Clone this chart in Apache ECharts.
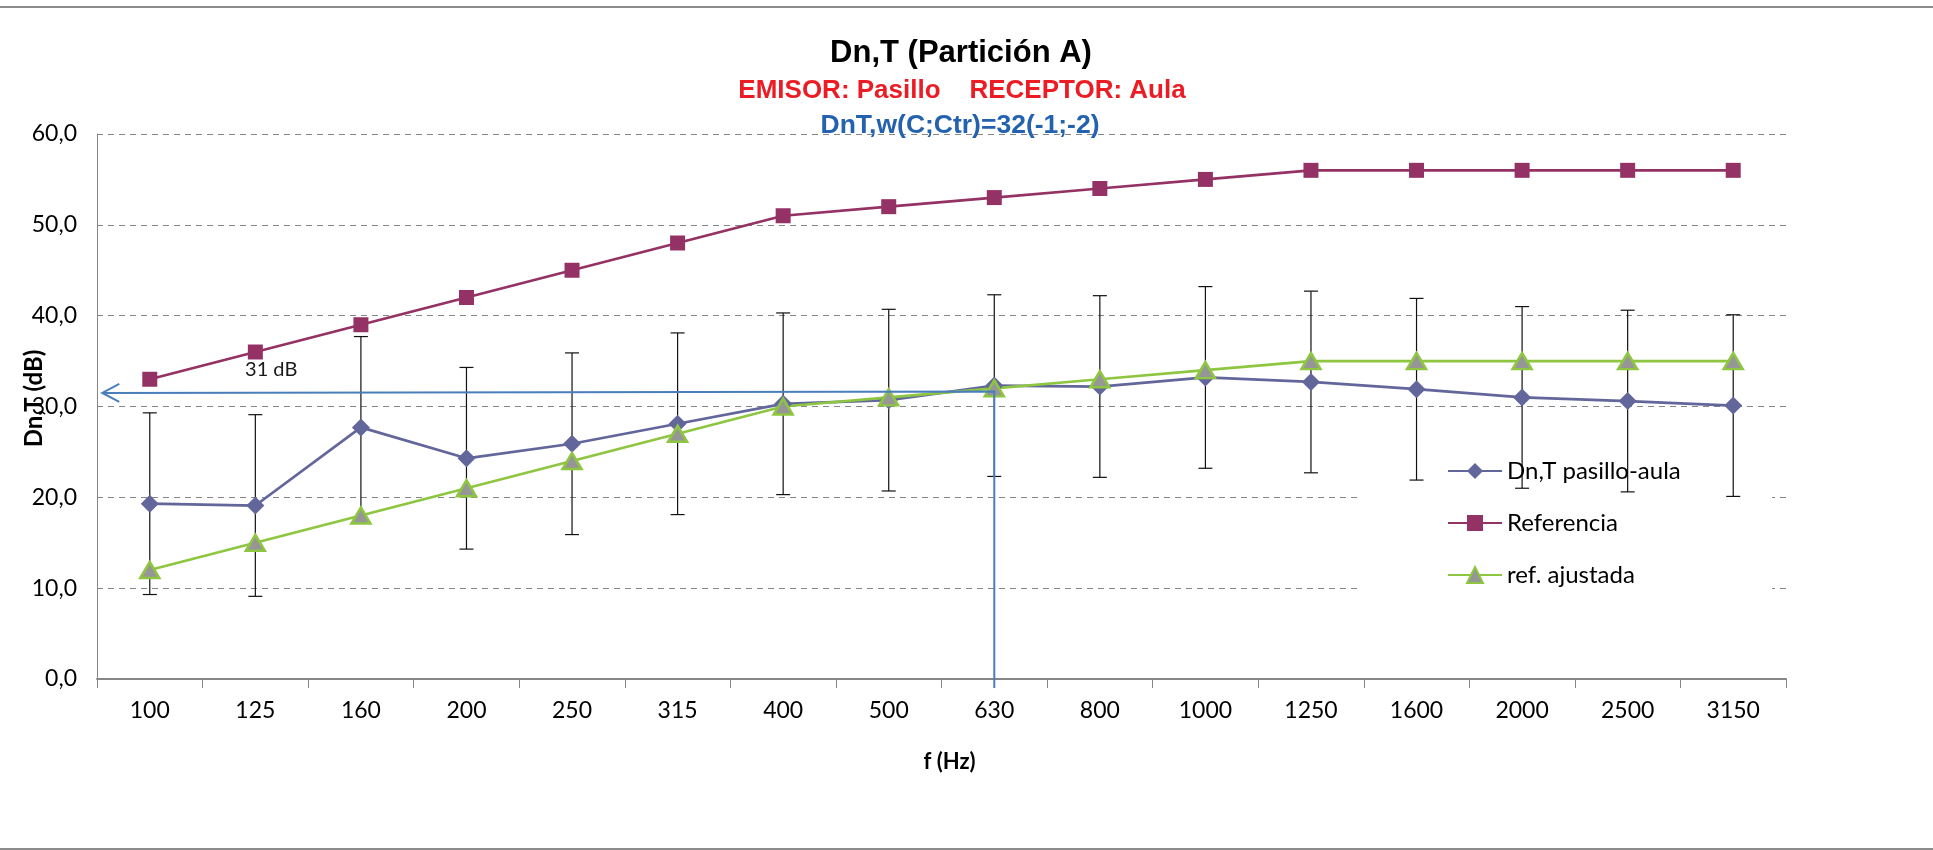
<!DOCTYPE html>
<html><head><meta charset="utf-8">
<script src="https://cdn.jsdelivr.net/npm/echarts@6/dist/echarts.min.js"></script>
<style>html,body{margin:0;padding:0;background:#fff}#c{width:1933px;height:850px}</style>
</head><body><div id="c"></div>
<script>
// ---- data ----
const frequencies = ['100','125','160','200','250','315','400','500','630','800','1000','1250','1600','2000','2500','3150'];
const dntPasilloAula = [19.3,19.1,27.7,24.3,25.9,28.1,30.3,30.7,32.3,32.2,33.2,32.7,31.9,31.0,30.6,30.1];
const referencia = [33,36,39,42,45,48,51,52,53,54,55,56,56,56,56,56];
const refAjustada = [12,15,18,21,24,27,30,31,32,33,34,35,35,35,35,35];
const errorBarAmount = 10;            // fixed-value error bars (dB)
const yTicks = [0,10,20,30,40,50,60];
// annotation (data space: x = category index, y = dB)
const arrowTip = [-0.45, 31.5];
const arrowCorner = [8, 31.65];
const arrowFoot = [8, -1];
const noteText = '31 dB';
const notePos = [1.15, 34.1];
const seriesNames = ['Dn,T pasillo-aula','Referencia','ref. ajustada'];

const chart = echarts.init(document.getElementById('c'), null, {renderer:'canvas'});
const CAL = 'Lato';
const ARIAL = 'Liberation Sans';
const arrowColor = '#4A7EBB';

const option = {
  backgroundColor:'#fff',
  animation:false,
  title:[
    {text:'Dn,T (Partición A)', left:961, textAlign:'center', top:38, padding:0,
     textStyle:{fontFamily:ARIAL, fontWeight:'bold', fontSize:31, color:'#000'}},
    {text:'EMISOR: Pasillo    RECEPTOR: Aula', left:962, textAlign:'center', top:78, padding:0,
     textStyle:{fontFamily:ARIAL, fontWeight:'bold', fontSize:26, color:'#EC1C24'}},
    {text:'DnT,w(C;Ctr)=32(-1;-2)', left:960, textAlign:'center', top:112, padding:0,
     textStyle:{fontFamily:ARIAL, fontWeight:'bold', fontSize:26.5, color:'#2462B0'}}
  ],
  grid:{left:97, right:147, top:134, bottom:171, containLabel:false, outerBoundsMode:'none'},
  legend:{orient:'vertical', left:1447, top:459, padding:0, itemWidth:54, itemHeight:20, itemGap:28,
    selectedMode:false, data:seriesNames,
    textStyle:{fontFamily:CAL, fontSize:24, color:'#000', lineHeight:24}},
  graphic:[
    {type:'rect', z:1, shape:{x:1358, y:430, width:414, height:195}, style:{fill:'#fff'}},
    {type:'line', z:1, shape:{x1:0, y1:7, x2:1933, y2:7}, style:{stroke:'#8c8c8c', lineWidth:2}},
    {type:'line', z:1, shape:{x1:0, y1:849, x2:1933, y2:849}, style:{stroke:'#8c8c8c', lineWidth:2}}
  ],
  xAxis:[
    {type:'category', data:frequencies, boundaryGap:true,
     name:'f (Hz)', nameLocation:'middle', nameGap:72, nameMoveOverlap:false,
     nameTextStyle:{fontFamily:CAL, fontWeight:'bold', fontSize:22, color:'#000', padding:[0,0,0,16]},
     axisLine:{onZero:false, lineStyle:{color:'#868686', width:2}},
     axisTick:{show:true, length:9, lineStyle:{color:'#868686', width:1}},
     axisLabel:{fontFamily:CAL, fontSize:23, color:'#000', margin:20},
     splitLine:{show:false}},
    {type:'value', min:-0.5, max:15.5, show:false, axisLine:{onZero:false}}
  ],
  yAxis:{type:'value', min:yTicks[0], max:yTicks[yTicks.length-1], interval:yTicks[1]-yTicks[0],
    name:'Dn,T (dB)', nameLocation:'middle', nameGap:51, nameRotate:90, nameMoveOverlap:false,
    nameTextStyle:{fontFamily:CAL, fontWeight:'bold', fontSize:24, color:'#000', padding:[0,0,0,16]},
    axisLine:{show:true, onZero:false, lineStyle:{color:'#868686', width:1}},
    axisTick:{show:false},
    axisLabel:{fontFamily:CAL, fontSize:23, color:'#000', margin:20,
      formatter:v=>v.toFixed(1).replace('.',',')},
    splitLine:{show:true, lineStyle:{color:'#868686', type:[6,5], width:1}}
  },
  series:[
    {type:'custom', name:'errorbars', xAxisIndex:0, yAxisIndex:0, z:2, silent:true,
     data:dntPasilloAula.map((v,i)=>[i, v-errorBarAmount, v+errorBarAmount]),
     encode:{x:0, y:[1,2]},
     renderItem:(params, api)=>{
       const x = api.value(0);
       const lo = api.coord([x, api.value(1)]);
       const hi = api.coord([x, api.value(2)]);
       const w = 7;
       const st = {stroke:'#111', lineWidth:1.2};
       return {type:'group', children:[
         {type:'line', shape:{x1:lo[0], y1:lo[1], x2:hi[0], y2:hi[1]}, style:st},
         {type:'line', shape:{x1:lo[0]-w, y1:lo[1], x2:lo[0]+w, y2:lo[1]}, style:st},
         {type:'line', shape:{x1:hi[0]-w, y1:hi[1], x2:hi[0]+w, y2:hi[1]}, style:st}
       ]};
     }},
    {type:'line', name:seriesNames[0], data:dntPasilloAula, z:3,
     symbol:'diamond', symbolSize:[18,18],
     lineStyle:{color:'#63669B', width:2.75},
     itemStyle:{color:'#63669B'}},
    {type:'line', name:seriesNames[1], data:referencia, z:3,
     symbol:'rect', symbolSize:15,
     lineStyle:{color:'#953265', width:2.75},
     itemStyle:{color:'#953265'}},
    {type:'line', name:seriesNames[2], data:refAjustada, z:3,
     symbol:'triangle', symbolSize:[19,16],
     lineStyle:{color:'#8EC641', width:2.75},
     itemStyle:{color:'#969696', borderColor:'#8EC641', borderWidth:2.5}},
    {type:'custom', name:'arrow', xAxisIndex:1, yAxisIndex:0, z:4, silent:true, clip:false,
     data:[[arrowCorner[0], arrowCorner[1]]],
     renderItem:(params, api)=>{
       const c = api.coord(arrowCorner);
       const t = api.coord(arrowTip);
       const f = api.coord(arrowFoot);
       const n = api.coord(notePos);
       const st = {stroke:arrowColor, lineWidth:2, fill:null};
       return {type:'group', children:[
         {type:'polyline', shape:{points:[t, c, f]}, style:st},
         {type:'polyline', shape:{points:[[t[0]+17, t[1]-9], t, [t[0]+17, t[1]+9]]}, style:st},
         {type:'text', x:n[0], y:n[1], style:{text:noteText, fontFamily:CAL, fontSize:20, fill:'#1a1a1a',
           align:'center', verticalAlign:'middle'}}
       ]};
     }}
  ]
};
chart.setOption(option);
</script>
</body></html>
